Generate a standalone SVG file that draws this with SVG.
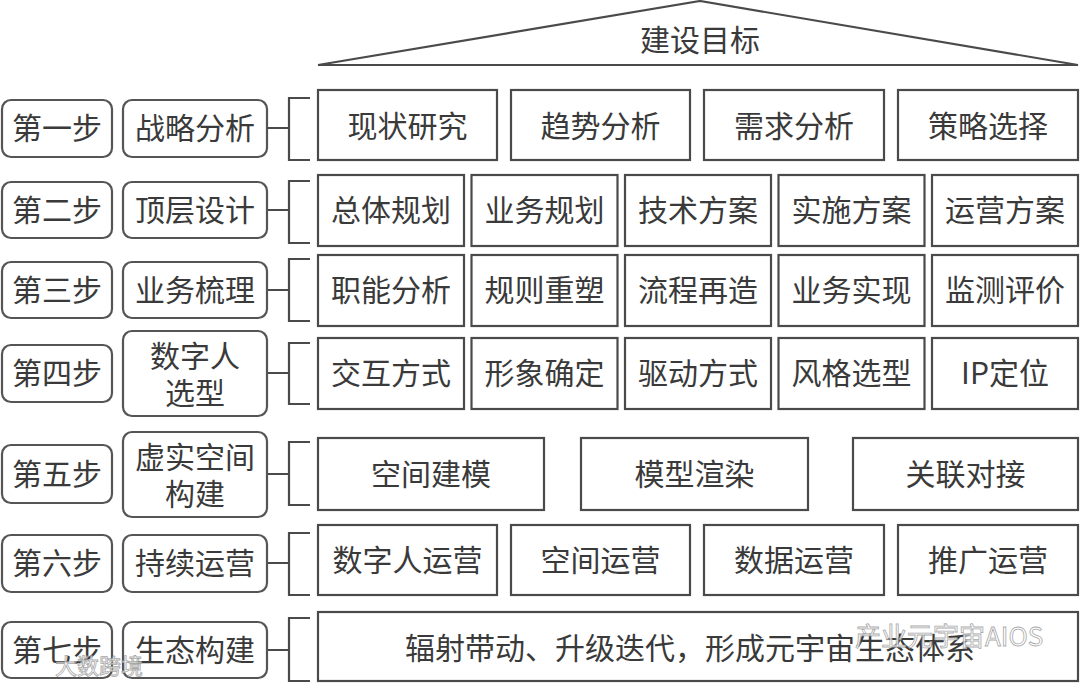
<svg xmlns="http://www.w3.org/2000/svg" width="1080" height="684" viewBox="0 0 1080 684">
<style>
text{font-family:"Noto Sans CJK SC","Noto Sans",sans-serif;fill:#3a3a3a;font-size:30px;text-anchor:middle;dominant-baseline:central;transform:translateY(-2px)}
.step,.name{fill:#fff;stroke:#555;stroke-width:2.2}
.box{fill:#fff;stroke:#4a4a4a;stroke-width:2.2}
.ln{fill:none;stroke:#4a4a4a;stroke-width:2.2}
.wm{fill:#fff;stroke:#9a9a9a;stroke-width:0.8;opacity:0.85;text-anchor:start}
</style>
<rect width="1080" height="684" fill="#fff"/>
<g id="roof">
<polyline class="ln" points="318,65 700,1 1078,65 318,65"/>
<text x="700" y="40">建设目标</text>
</g>
<g id="connectors">
<path class="ln" d="M267,128H289M310,98H289V160H310"/>
<path class="ln" d="M267,210H289M310,181H289V243H310"/>
<path class="ln" d="M267,290H289M310,259H289V321H310"/>
<path class="ln" d="M267,373H289M310,343H289V404H310"/>
<path class="ln" d="M267,474H289M310,442H289V505H310"/>
<path class="ln" d="M267,563H289M310,533H289V595H310"/>
<path class="ln" d="M267,650H289M310,618H289V681H310"/>
</g>
<g id="step1"><rect class="step" x="2" y="100" width="110" height="57" rx="9"/><text x="57" y="128">第一步</text></g>
<g id="step2"><rect class="step" x="2" y="182" width="110" height="56" rx="9"/><text x="57" y="210">第二步</text></g>
<g id="step3"><rect class="step" x="2" y="262" width="110" height="56" rx="9"/><text x="57" y="290">第三步</text></g>
<g id="step4"><rect class="step" x="2" y="345" width="110" height="57" rx="9"/><text x="57" y="373">第四步</text></g>
<g id="step5"><rect class="step" x="2" y="445" width="110" height="58" rx="9"/><text x="57" y="474">第五步</text></g>
<g id="step6"><rect class="step" x="2" y="535" width="110" height="57" rx="9"/><text x="57" y="563">第六步</text></g>
<g id="step7"><rect class="step" x="2" y="622" width="110" height="56" rx="9"/><text x="57" y="650">第七步</text></g>
<g id="name1"><rect class="name" x="123" y="100" width="144" height="57" rx="9"/><text x="195" y="128">战略分析</text></g>
<g id="name2"><rect class="name" x="123" y="182" width="144" height="56" rx="9"/><text x="195" y="210">顶层设计</text></g>
<g id="name3"><rect class="name" x="123" y="262" width="144" height="56" rx="9"/><text x="195" y="290">业务梳理</text></g>
<g id="name4"><rect class="name" x="123" y="331" width="144" height="85" rx="9"/><text x="195" y="356">数字人</text><text x="195" y="393">选型</text></g>
<g id="name5"><rect class="name" x="123" y="432" width="144" height="85" rx="9"/><text x="195" y="457">虚实空间</text><text x="195" y="494">构建</text></g>
<g id="name6"><rect class="name" x="123" y="535" width="144" height="57" rx="9"/><text x="195" y="563">持续运营</text></g>
<g id="name7"><rect class="name" x="123" y="622" width="144" height="56" rx="9"/><text x="195" y="650">生态构建</text></g>
<g id="r1a"><rect class="box" x="318" y="90" width="179" height="70"/><text x="407.5" y="126">现状研究</text></g>
<g id="r1b"><rect class="box" x="511" y="90" width="179" height="70"/><text x="600.5" y="126">趋势分析</text></g>
<g id="r1c"><rect class="box" x="704" y="90" width="180" height="70"/><text x="794" y="126">需求分析</text></g>
<g id="r1d"><rect class="box" x="898" y="90" width="180" height="70"/><text x="988" y="126">策略选择</text></g>
<g id="r2a"><rect class="box" x="318" y="175" width="146" height="71"/><text x="391" y="210">总体规划</text></g>
<g id="r2b"><rect class="box" x="471.5" y="175" width="146" height="71"/><text x="544.5" y="210">业务规划</text></g>
<g id="r2c"><rect class="box" x="625" y="175" width="146" height="71"/><text x="698" y="210">技术方案</text></g>
<g id="r2d"><rect class="box" x="778.5" y="175" width="146" height="71"/><text x="851.5" y="210">实施方案</text></g>
<g id="r2e"><rect class="box" x="932" y="175" width="146" height="71"/><text x="1005" y="210">运营方案</text></g>
<g id="r3a"><rect class="box" x="318" y="255" width="146" height="71"/><text x="391" y="290">职能分析</text></g>
<g id="r3b"><rect class="box" x="471.5" y="255" width="146" height="71"/><text x="544.5" y="290">规则重塑</text></g>
<g id="r3c"><rect class="box" x="625" y="255" width="146" height="71"/><text x="698" y="290">流程再造</text></g>
<g id="r3d"><rect class="box" x="778.5" y="255" width="146" height="71"/><text x="851.5" y="290">业务实现</text></g>
<g id="r3e"><rect class="box" x="932" y="255" width="146" height="71"/><text x="1005" y="290">监测评价</text></g>
<g id="r4a"><rect class="box" x="318" y="338" width="146" height="71"/><text x="391" y="373">交互方式</text></g>
<g id="r4b"><rect class="box" x="471.5" y="338" width="146" height="71"/><text x="544.5" y="373">形象确定</text></g>
<g id="r4c"><rect class="box" x="625" y="338" width="146" height="71"/><text x="698" y="373">驱动方式</text></g>
<g id="r4d"><rect class="box" x="778.5" y="338" width="146" height="71"/><text x="851.5" y="373">风格选型</text></g>
<g id="r4e"><rect class="box" x="932" y="338" width="146" height="71"/><text x="1005" y="373">IP定位</text></g>
<g id="r5a"><rect class="box" x="318" y="438" width="226" height="72"/><text x="431" y="474">空间建模</text></g>
<g id="r5b"><rect class="box" x="581" y="438" width="227" height="72"/><text x="694.5" y="474">模型渲染</text></g>
<g id="r5c"><rect class="box" x="853" y="438" width="225" height="72"/><text x="965.5" y="474">关联对接</text></g>
<g id="r6a"><rect class="box" x="318" y="525" width="179" height="70"/><text x="407.5" y="560">数字人运营</text></g>
<g id="r6b"><rect class="box" x="511" y="525" width="179" height="70"/><text x="600.5" y="560">空间运营</text></g>
<g id="r6c"><rect class="box" x="704" y="525" width="180" height="70"/><text x="794" y="560">数据运营</text></g>
<g id="r6d"><rect class="box" x="898" y="525" width="180" height="70"/><text x="988" y="560">推广运营</text></g>
<g id="r7"><rect class="box" x="318" y="612" width="760" height="69"/><text x="690" y="648">辐射带动、升级迭代，形成元宇宙生态体系</text></g>
<g id="watermarks">
<text class="wm" x="855" y="636" style="font-size:26px">产业元宇宙AIOS</text>
<text class="wm" x="55" y="666" style="font-size:22px">大数跨境</text>
</g>
</svg>
